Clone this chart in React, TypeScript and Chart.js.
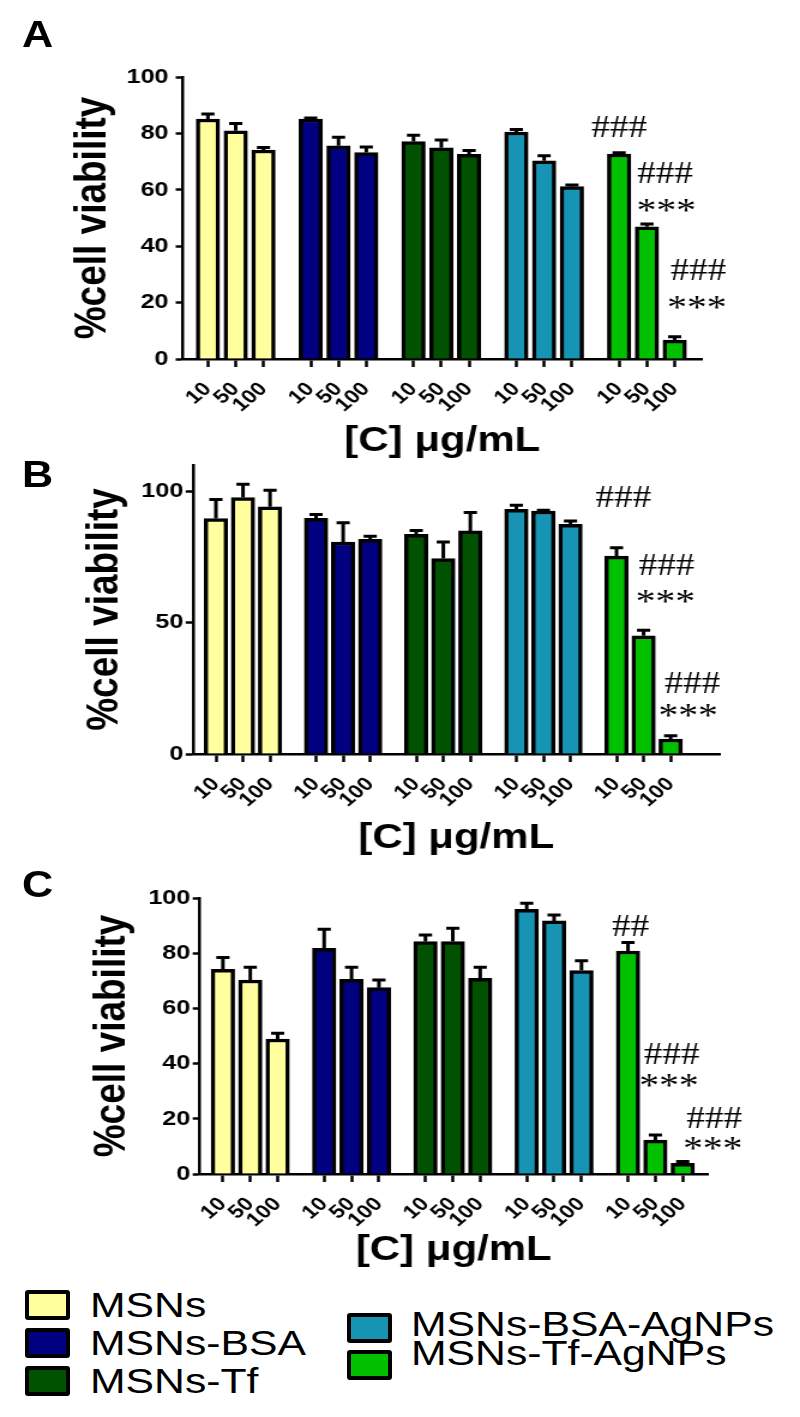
import React, { useEffect, useRef } from 'react';
import { Chart, registerables } from 'chart.js';

Chart.register(...registerables);

// ---------- data ----------
const groups = ['MSNs', 'MSNs-BSA', 'MSNs-Tf', 'MSNs-BSA-AgNPs', 'MSNs-Tf-AgNPs'];
const groupColors = ['#ffff9e', '#000080', '#005200', '#1794b4', '#00c000'];
const doses = ['10', '50', '100'];

// Panel A (mean, upper SD) per group, doses 10/50/100
const meansA = [[85.1, 80.9, 74.1], [85.1, 75.6, 73.2], [77.1, 74.9, 72.6], [80.5, 70.3, 61.1], [72.7, 46.9, 6.7]];
const errsA = [[1.8, 2.6, 0.9], [0.4, 3.0, 2.0], [2.2, 2.8, 1.3], [0.9, 1.8, 0.6], [0.4, 1.0, 1.2]];
// Panel B
const meansB = [[89.6, 97.6, 94.1], [89.7, 80.7, 81.7], [83.6, 74.4, 84.9], [93.1, 92.5, 87.4], [75.3, 45.0, 5.7]];
const errsB = [[7.3, 5.1, 6.3], [1.5, 7.3, 1.2], [1.5, 6.3, 7.0], [1.6, 0.3, 1.3], [3.2, 2.1, 1.2]];
// Panel C
const meansC = [[74.2, 70.3, 48.9], [81.8, 70.5, 67.5], [84.2, 84.2, 70.9], [95.9, 91.7, 73.7], [80.8, 12.3, 3.9]];
const errsC = [[4.2, 4.6, 2.1], [6.9, 4.4, 2.8], [2.4, 4.8, 4.0], [2.2, 2.1, 3.6], [3.1, 1.8, 0.6]];

const yTicksA = [0, 20, 40, 60, 80, 100];
const yTicksB = [0, 50, 100];
const yTicksC = [0, 20, 40, 60, 80, 100];

// significance marks: text, x (in bar-slot units), y (value)
const notesA = [
  { t: '###', x: 14.8, y: 82.3 },
  { t: '###', x: 16.45, y: 66.3 },
  { t: '***', x: 16.5, y: 54.6 },
  { t: '###', x: 17.65, y: 31.9 },
  { t: '***', x: 17.6, y: 20.2 },
];
const notesB = [
  { t: '###', x: 15.05, y: 97.9 },
  { t: '###', x: 16.65, y: 72.1 },
  { t: '***', x: 16.6, y: 59.9 },
  { t: '###', x: 17.6, y: 27.3 },
  { t: '***', x: 17.45, y: 16.4 },
];
const notesC = [
  { t: '##', x: 14.9, y: 90.2 },
  { t: '###', x: 16.4, y: 43.8 },
  { t: '***', x: 16.3, y: 33.7 },
  { t: '###', x: 17.95, y: 20.3 },
  { t: '***', x: 17.9, y: 11.2 },
];

const yTitle = '%cell viability';
const xTitle = '[C] \u03bcg/mL';

// ---------- layout ----------
const SX = 1.2; // horizontal stretch of the figure
const CW = Math.round(800 / SX);
const GROUP_STEP = 3.7;
const FONT = '"Liberation Sans", Arial, Helvetica, sans-serif';
const TITLE_SIZE = 35;

Chart.defaults.font.family = FONT;
Chart.defaults.color = '#000';

const panels = [
  { id: 'A', top: 0, height: 470, chartTop: 77, chartBottom: 359, left: 183, right: 702, yMax: 100, yTicks: yTicksA, xMin: -0.9, xMax: 17.77, yTitleX: 93, xTitleY: 441, yTickPad: 6, means: meansA, errs: errsA, notes: notesA },
  { id: 'B', top: 430, height: 432, chartTop: 35, chartBottom: 324, left: 193, right: 720, yMax: 110, yTicks: yTicksB, xMin: -0.85, xMax: 18.61, yTitleX: 105, xTitleY: 838, yTickPad: 2, means: meansB, errs: errsB, notes: notesB },
  { id: 'C', top: 850, height: 420, chartTop: 48, chartBottom: 324, left: 200, right: 708, yMax: 100, yTicks: yTicksC, xMin: -0.84, xMax: 17.71, yTitleX: 112, xTitleY: 1250, yTickPad: 2, means: meansC, errs: errsC, notes: notesC },
];

function buildChart(canvas: HTMLCanvasElement, p: any) {
  const tickPos = groups.flatMap((_, gi) => doses.map((_, di) => gi * GROUP_STEP + di));
  const datasets = groups.map((g, gi) => ({
    label: g,
    data: p.means[gi].map((v: number, di: number) => ({ x: gi * GROUP_STEP + di, y: v })),
    backgroundColor: groupColors[gi],
    borderColor: '#000',
    borderWidth: 3.5,
    borderSkipped: 'bottom',
    grouped: false,
    barPercentage: 1,
    categoryPercentage: 1,
    maxBarThickness: 19.5,
  }));

  const errorPlugin = {
    id: 'errbars' + p.id,
    afterDatasetsDraw(chart: any) {
      const ctx = chart.ctx;
      const ys = chart.scales.y;
      ctx.save();
      ctx.strokeStyle = '#000';
      ctx.lineWidth = 3;
      chart.data.datasets.forEach((ds: any, gi: number) => {
        const meta = chart.getDatasetMeta(gi);
        meta.data.forEach((el: any, di: number) => {
          const v = p.means[gi][di];
          const e = p.errs[gi][di];
          const yTop = ys.getPixelForValue(v + e);
          const yBar = ys.getPixelForValue(v);
          ctx.beginPath();
          ctx.moveTo(el.x, yBar);
          ctx.lineTo(el.x, yTop);
          ctx.moveTo(el.x - 5.5, yTop);
          ctx.lineTo(el.x + 5.5, yTop);
          ctx.stroke();
        });
      });
      ctx.restore();
    },
  };

  const notePlugin = {
    id: 'notes' + p.id,
    afterDraw(chart: any) {
      const ctx = chart.ctx;
      const xs = chart.scales.x;
      const ys = chart.scales.y;
      ctx.save();
      ctx.fillStyle = '#000';
      ctx.textAlign = 'center';
      ctx.textBaseline = 'alphabetic';
      p.notes.forEach((n: any) => {
        ctx.font = n.t[0] === '*' ? '33px "Liberation Serif", "Times New Roman", serif' : '31px "Liberation Serif", "Times New Roman", serif';
        const px = xs.getPixelForValue(n.x);
        const py = ys.getPixelForValue(n.y);
        const m = ctx.measureText(n.t);
        const a = m.actualBoundingBoxAscent;
        const d = m.actualBoundingBoxDescent;
        ctx.fillText(n.t, px, py + (a - d) / 2);
      });
      ctx.restore();
    },
  };

  const H = p.height;
  const chartLeft = p.left / SX;
  const chartRight = p.right / SX;
  const xTitleLocal = p.xTitleY - p.top;

  return new Chart(canvas, {
    type: 'bar',
    data: { datasets },
    plugins: [errorPlugin, notePlugin],
    options: {
      responsive: false,
      animation: false,
      events: [],
      layout: { padding: { top: p.chartTop, left: 0, right: CW - chartRight, bottom: 0 } },
      plugins: { legend: { display: false }, tooltip: { enabled: false } },
      scales: {
        x: {
          type: 'linear',
          min: p.xMin,
          max: p.xMax,
          offset: false,
          afterBuildTicks: (scale: any) => {
            scale.ticks = tickPos.map((v) => ({ value: v }));
          },
          afterFit: (scale: any) => {
            scale.height = H - p.chartBottom;
          },
          ticks: {
            autoSkip: false,
            minRotation: 45,
            maxRotation: 45,
            padding: 11,
            color: '#000',
            font: { size: 19, weight: 'bold' },
            callback: (_v: any, i: number) => doses[i % 3],
          },
          grid: {
            offset: false,
            drawOnChartArea: false,
            drawTicks: true,
            tickLength: 8,
            tickColor: '#000',
            tickWidth: 2.5,
          },
          border: { display: true, color: '#000', width: 2.5 },
          title: {
            display: true,
            text: xTitle,
            color: '#000',
            font: { size: TITLE_SIZE, weight: 'bold', lineHeight: 1 },
            padding: { top: 0, bottom: H - xTitleLocal - TITLE_SIZE / 2 },
          },
        },
        y: {
          type: 'linear',
          min: 0,
          max: p.yMax,
          afterBuildTicks: (scale: any) => {
            scale.ticks = p.yTicks.map((v: number) => ({ value: v }));
          },
          afterFit: (scale: any) => {
            scale.width = chartLeft;
          },
          ticks: {
            padding: p.yTickPad,
            color: '#000',
            font: { size: 21, weight: 'bold' },
          },
          grid: {
            drawOnChartArea: false,
            drawTicks: true,
            tickLength: 6,
            tickColor: '#000',
            tickWidth: 2.5,
          },
          border: { display: true, color: '#000', width: 2.5 },
          title: {
            display: true,
            text: yTitle,
            color: '#000',
            font: { size: 37, weight: 'bold', lineHeight: 1 },
            padding: { top: p.yTitleX / SX - 18.5, bottom: 0 },
          },
        },
      },
    } as any,
  });
}

function Panel({ p }: { p: any }) {
  const ref = useRef<HTMLCanvasElement | null>(null);
  useEffect(() => {
    if (!ref.current) return;
    const chart = buildChart(ref.current, p);
    return () => chart.destroy();
  }, []);
  return (
    <canvas
      ref={ref}
      width={CW}
      height={p.height}
      style={{ position: 'absolute', left: 0, top: p.top, width: 800, height: p.height }}
    />
  );
}

const letterTops = [17, 457, 867];

const legendLeft = [
  { name: groups[0], color: groupColors[0], boxTop: 1290, textTop: 1287 },
  { name: groups[1], color: groupColors[1], boxTop: 1328, textTop: 1325 },
  { name: groups[2], color: groupColors[2], boxTop: 1366, textTop: 1363 },
];
const legendRight = [
  { name: groups[3], color: groupColors[3], boxTop: 1313, textTop: 1306 },
  { name: groups[4], color: groupColors[4], boxTop: 1350, textTop: 1335 },
];

function LegendItem({ item, boxLeft, textLeft }: any) {
  return (
    <>
      <div
        style={{
          position: 'absolute',
          left: boxLeft,
          top: item.boxTop,
          width: 45,
          height: 30,
          boxSizing: 'border-box',
          border: '4px solid #000',
          borderRadius: 3,
          background: item.color,
        }}
      />
      <div
        style={{
          position: 'absolute',
          left: textLeft,
          top: item.textTop,
          font: `35px ${FONT}`,
          lineHeight: '35px',
          whiteSpace: 'nowrap',
          transform: 'scaleX(1.22)',
          transformOrigin: '0 0',
          color: '#000',
        }}
      >
        {item.name}
      </div>
    </>
  );
}

export default function App() {
  return (
    <div style={{ position: 'absolute', left: 0, top: 0, width: 800, height: 1417, background: '#fff', overflow: 'hidden' }}>
      {panels.map((p, i) => (
        <React.Fragment key={p.id}>
          <Panel p={p} />
          <div
            style={{
              position: 'absolute',
              left: 22,
              top: letterTops[i],
              font: `bold 36px ${FONT}`,
              lineHeight: '36px',
              transform: `scaleX(${SX})`,
              transformOrigin: '0 0',
              color: '#000',
            }}
          >
            {p.id}
          </div>
        </React.Fragment>
      ))}
      {legendLeft.map((it) => (
        <LegendItem key={it.name} item={it} boxLeft={25} textLeft={90} />
      ))}
      {legendRight.map((it) => (
        <LegendItem key={it.name} item={it} boxLeft={347} textLeft={411} />
      ))}
    </div>
  );
}
